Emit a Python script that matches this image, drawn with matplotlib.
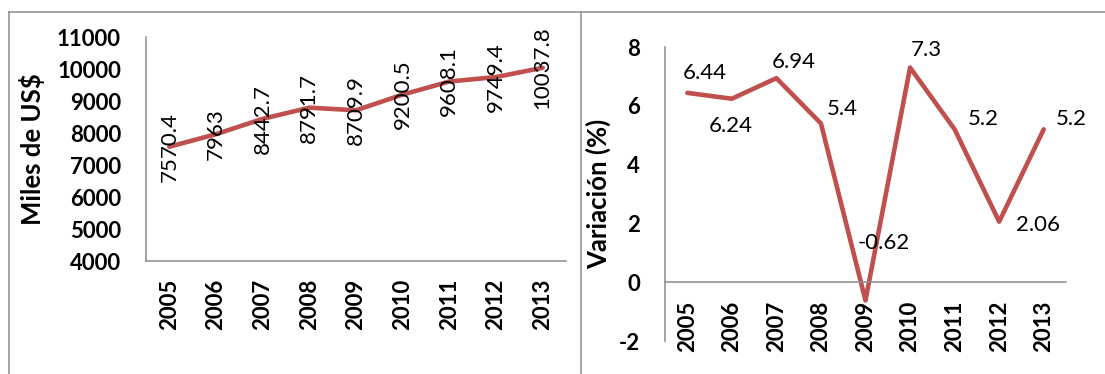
import matplotlib.pyplot as plt
from matplotlib.lines import Line2D

plt.rcParams['font.family'] = ['Lato', 'DejaVu Sans']
plt.rcParams['axes.unicode_minus'] = False

years = ['2005', '2006', '2007', '2008', '2009', '2010', '2011', '2012', '2013']
miles_usd = [7570.4, 7963, 8442.7, 8791.7, 8709.9, 9200.5, 9608.1, 9749.4, 10037.8]
variacion = [6.44, 6.24, 6.94, 5.4, -0.62, 7.3, 5.2, 2.06, 5.2]

# desplazamiento (px) de cada etiqueta del grafico de variacion
lbl_off = [(17, 20), (-1, -27), (17, 16), (21, 14), (18, 57),
           (16, 18), (29, 10), (39, -3), (28, 10)]

rojo = '#C0504D'
gris = '#8C8C8C'
fs = 16

fig = plt.figure(figsize=(11.05, 3.74), dpi=100)
W, H = 1105, 374

# marcos de los dos graficos
for xs, ys in [([8.6, 1105], [12, 12]), ([8.6, 8.6], [12, 374]), ([581, 581], [12, 374])]:
    fig.add_artist(Line2D([x / W for x in xs], [1 - y / H for y in ys],
                          color=gris, lw=1.1, transform=fig.transFigure))

x = list(range(len(years)))


def estilo(ax, ylabel, lab_x):
    ax.set_xlim(-0.5, 8.5)
    ax.set_xticks(x)
    ax.set_xticklabels(years, rotation=90, fontweight='bold', fontsize=fs)
    ax.tick_params(axis='y', length=0, pad=18, labelsize=fs)
    ax.tick_params(axis='x', length=0, pad=13)
    for t in ax.get_yticklabels():
        t.set_fontweight('bold')
    for s in ['top', 'right']:
        ax.spines[s].set_visible(False)
    for s in ['left', 'bottom']:
        ax.spines[s].set_color(gris)
        ax.spines[s].set_linewidth(1.1)
    ax.set_ylabel(ylabel, fontweight='bold', fontsize=18.5, va='center')
    ax.yaxis.set_label_coords(lab_x, 0.5)


# --- grafico 1: miles de US$ ---
ax1 = fig.add_axes([146 / W, 1 - 261 / H, 420 / W, 224 / H])
ax1.plot(x, miles_usd, color=rojo, lw=3.3, solid_capstyle='round')
for xi, v in zip(x, miles_usd):
    ax1.text(xi, v, f'{v:g}', rotation=90, ha='center', va='center',
             fontsize=fs, rotation_mode='anchor')
ax1.set_ylim(4000, 11000)
ax1.set_yticks(range(4000, 11001, 1000))
estilo(ax1, 'Miles de US$', -(146 - 32) / 420)

# --- grafico 2: variacion (%) ---
ax2 = fig.add_axes([665 / W, 1 - 341 / H, 401 / W, 294 / H])
ax2.spines['bottom'].set_position(('data', 0))
ax2.plot(x, variacion, color=rojo, lw=3.3, solid_capstyle='round')
for xi, v, (dx, dy) in zip(x, variacion, lbl_off):
    ax2.annotate(f'{v:g}', (xi, v), xytext=(dx, dy), textcoords='offset pixels',
                 ha='center', va='center', fontsize=fs)
ax2.set_ylim(-2, 8)
ax2.set_yticks(range(-2, 9, 2))
estilo(ax2, 'Variación (%)', -(665 - 598) / 401)

fig.savefig('out.png', dpi=100, facecolor='white')
